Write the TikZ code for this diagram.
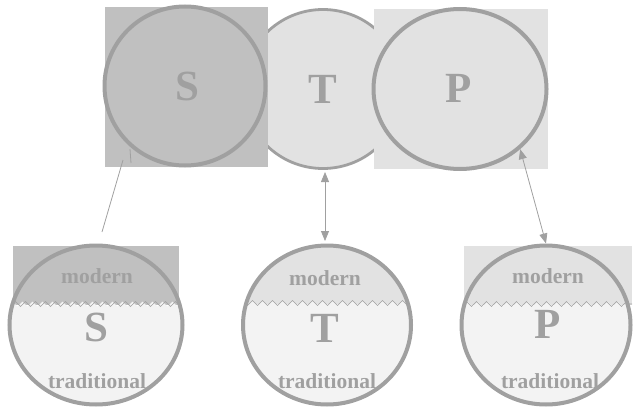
\documentclass[tikz,border=0pt]{standalone}
\usepackage{fontspec}
\setmainfont{Liberation Serif}
\usetikzlibrary{shapes.geometric,arrows.meta,decorations.pathmorphing}
\definecolor{edge}{HTML}{A0A0A0}
\definecolor{darkfill}{HTML}{C0C0C0}
\definecolor{lightfill}{HTML}{E2E2E2}
\definecolor{lowfill}{HTML}{F3F3F3}
\begin{document}
\begin{tikzpicture}[x=1pt,y=-1pt,
  ring/.style={ellipse, draw=edge, line width=4pt, inner sep=0pt},
  big/.style={font=\fontsize{43}{43}\selectfont\bfseries, text=edge},
  small/.style={font=\fontsize{21.5}{21.5}\selectfont\bfseries, text=edge},
  link/.style={draw=edge, line width=0.8pt},
  dbl/.style={link, {Triangle[length=10pt,width=8pt]}-{Triangle[length=10pt,width=8pt]}},
  waveline/.style={draw=edge, line width=0.6pt},
  zz/.style={decoration={zigzag, segment length=10pt, amplitude=2.5pt}}]
\useasboundingbox (0,0) rectangle (634,412);

% ---------- top row ----------
\node[ring, fill=lightfill, line width=2.8pt, minimum width=160pt, minimum height=159pt] (tT) at (323,89) {};
\fill[darkfill] (105,7) rectangle (268,167);
\node[ring, fill=darkfill, minimum width=161pt, minimum height=159pt] (tS) at (185,86) {};
\fill[lightfill] (374,9) rectangle (548,169);
\node[ring, fill=lightfill, minimum width=173pt, minimum height=160pt] (tP) at (460,89) {};
\node[big] (tSl) at (187,86) {S};
\node[big] (tTl) at (323,89) {T};
\node[big] (tPl) at (459,88) {P};

% ---------- bottom S ----------
\fill[darkfill] (13,246) rectangle (179,305);
\begin{scope}
  \clip (96,325) ellipse [x radius=86.5, y radius=79.5];
  \fill[lowfill] (0,304) decorate[zz]{-- (198,304)} -- (198,420) -- (0,420) -- cycle;
\end{scope}
\draw[waveline] (13,304) decorate[zz]{-- (179,304)};
\node[ring, minimum width=173pt, minimum height=159pt] (bS) at (96,325) {};
\node[small] (bSm) at (97,276) {modern};
\node[big] (bSl) at (96,327) {S};
\node[small] (bSt) at (97,381) {traditional};

% ---------- bottom T ----------
\begin{scope}
  \clip (327,325) ellipse [x radius=84, y radius=79.5];
  \fill[lightfill] (230,240) rectangle (420,304);
  \fill[lowfill] (230,303) decorate[zz]{-- (425,303)} -- (425,420) -- (230,420) -- cycle;
  \draw[waveline] (230,303) decorate[zz]{-- (425,303)};
\end{scope}
\node[ring, minimum width=168pt, minimum height=159pt] (bT) at (327,325) {};
\node[small] (bTm) at (325,278) {modern};
\node[big] (bTl) at (325,328) {T};
\node[small] (bTt) at (327,381) {traditional};

% ---------- bottom P ----------
\fill[lightfill] (464,246) rectangle (632,305);
\begin{scope}
  \clip (546,325) ellipse [x radius=84.5, y radius=79.5];
  \fill[lowfill] (455,304) decorate[zz]{-- (640,304)} -- (640,420) -- (455,420) -- cycle;
\end{scope}
\draw[waveline] (464,304) decorate[zz]{-- (632,304)};
\node[ring, minimum width=169pt, minimum height=159pt] (bP) at (546,325) {};
\node[small] (bPm) at (548,276) {modern};
\node[big] (bPl) at (548,324) {P};
\node[small] (bPt) at (550,381) {traditional};

% ---------- connectors ----------
\coordinate (sA) at (130,149);
\coordinate (sB) at (131,163);
\coordinate (sC) at (123,160);
\coordinate (sD) at (102,232);
\draw[link] (sA) -- (sB);
\draw[link] (sC) -- (sD);
\coordinate (tA) at (325,172);
\coordinate (tB) at (325,241);
\draw[dbl] (tA) -- (tB);
\draw[dbl] (tP.-45) -- (bP.north);
\end{tikzpicture}
\end{document}
